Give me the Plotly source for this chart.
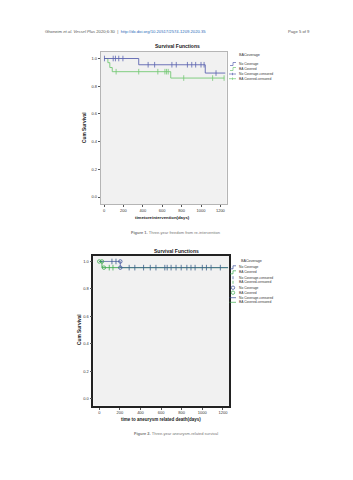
import plotly.graph_objects as go

W, H = 353, 480
def fx(px): return px / W
def fy(py): return 1 - py / H

BLUE = "#5c64b0"
GREEN = "#74c874"
FONT = "Liberation Sans, Arial, sans-serif"

# ---------- Figure 1 data: freedom from re-intervention ----------
f1_nocov_t = [0, 358, 1044, 1250]
f1_nocov_s = [1.0, 0.955, 0.895, 0.895]
f1_cov_t = [0, 40, 60, 85, 688, 1240]
f1_cov_s = [1.0, 0.97, 0.935, 0.905, 0.859, 0.859]
f1_nocov_cens_t = [5, 95, 118, 152, 195, 455, 522, 700, 745, 860, 905, 945, 1000, 1032, 1155]
f1_nocov_cens_s = [1.0, 1.0, 1.0, 1.0, 1.0, 0.955, 0.955, 0.955, 0.955, 0.955, 0.955, 0.955, 0.955, 0.955, 0.895]
f1_cov_cens_t = [125, 358, 555, 628, 645, 662, 822, 1120, 1238]
f1_cov_cens_s = [0.905, 0.905, 0.905, 0.905, 0.905, 0.905, 0.859, 0.859, 0.859]

# ---------- Figure 2 data: aneurysm-related survival ----------
f2_cov_t = [0, 26, 1250]
f2_cov_s = [1.0, 0.955, 0.955]
f2_nocov_t = [0, 204, 1250]
f2_nocov_s = [1.0, 0.955, 0.955]
f2_cov_circ_t = [0, 26, 45]
f2_cov_circ_s = [1.0, 1.0, 0.955]
f2_nocov_circ_t = [204, 204]
f2_nocov_circ_s = [1.0, 0.955]
f2_cov_cens_t = [97, 133]
f2_cov_cens_s = [0.955, 0.955]
f2_nocov_cens_t = [123, 162, 290, 345, 430, 495, 550, 636, 659, 697, 745, 795, 850, 890, 930, 1000, 1040, 1085, 1175]
f2_nocov_cens_s = [1.0, 1.0] + [0.955] * 17

x_ticks = [0, 200, 400, 600, 800, 1000, 1200]
y_ticks = [0.0, 0.2, 0.4, 0.6, 0.8, 1.0]
y_tick_labels = ["0.0", "0.2", "0.4", "0.6", "0.8", "1.0"]

fig = go.Figure()

def step(t, s, color, xa, ya, opacity=1.0, width=0.9):
    fig.add_trace(go.Scatter(x=t, y=s, mode="lines", line=dict(color=color, width=width, shape="hv"),
                             opacity=opacity, xaxis=xa, yaxis=ya, showlegend=False, hoverinfo="skip"))

def cens(t, s, color, xa, ya):
    fig.add_trace(go.Scatter(x=t, y=s, mode="markers",
                             marker=dict(symbol="line-ns", size=4, color=color,
                                         line=dict(color=color, width=0.8)),
                             xaxis=xa, yaxis=ya, showlegend=False, hoverinfo="skip"))

def circ(t, s, color, xa, ya):
    fig.add_trace(go.Scatter(x=t, y=s, mode="markers",
                             marker=dict(symbol="circle-open", size=3.5, color=color,
                                         line=dict(color=color, width=0.8)),
                             xaxis=xa, yaxis=ya, showlegend=False, hoverinfo="skip"))

# Figure 1
step(f1_cov_t, f1_cov_s, GREEN, "x", "y")
step(f1_nocov_t, f1_nocov_s, BLUE, "x", "y")
cens(f1_cov_cens_t, f1_cov_cens_s, GREEN, "x", "y")
cens(f1_nocov_cens_t, f1_nocov_cens_s, BLUE, "x", "y")

# Figure 2
step(f2_cov_t, f2_cov_s, "#3faa4f", "x2", "y2")
step(f2_nocov_t, f2_nocov_s, "#3a4f9a", "x2", "y2", opacity=0.75)
cens(f2_cov_cens_t, f2_cov_cens_s, "#3faa4f", "x2", "y2")
cens(f2_nocov_cens_t, f2_nocov_cens_s, "#3a5f8a", "x2", "y2")
circ(f2_cov_circ_t, f2_cov_circ_s, "#3faa4f", "x2", "y2")
circ(f2_nocov_circ_t, f2_nocov_circ_s, "#3a4f9a", "x2", "y2")

tickfont = dict(family=FONT, size=4, color="#333")
common_x = dict(tickmode="array", tickvals=x_ticks, ticktext=[str(v) for v in x_ticks],
                ticks="outside", ticklen=2, tickwidth=0.6, tickcolor="#555",
                showgrid=False, zeroline=False, tickfont=tickfont, mirror=True, showline=True)
common_y = dict(tickmode="array", tickvals=y_ticks, ticktext=y_tick_labels,
                ticks="outside", ticklen=2, tickwidth=0.6, tickcolor="#555",
                showgrid=False, zeroline=False, tickfont=tickfont, mirror=True, showline=True)

fig.update_layout(
    width=W, height=H, margin=dict(l=0, r=0, t=0, b=0),
    paper_bgcolor="white", plot_bgcolor="#f1f1f1",
    xaxis=dict(domain=[fx(100.7), fx(226.7)], range=[-34, 1265], anchor="y",
               linecolor="#b5b5b5", linewidth=0.8, **common_x),
    yaxis=dict(domain=[fy(204), fy(52)], range=[-0.05, 1.047], anchor="x",
               linecolor="#b5b5b5", linewidth=0.8, **common_y),
    xaxis2=dict(domain=[fx(93.3), fx(229)], range=[-58, 1259], anchor="y2",
                linecolor="#222", linewidth=1.6, **common_x),
    yaxis2=dict(domain=[fy(405.7), fy(255.7)], range=[-0.051, 1.042], anchor="x2",
                linecolor="#222", linewidth=1.6, **common_y),
)

ann = []
def text(px, py, s, size, xanchor="center", color="#222", textangle=0):
    ann.append(dict(x=fx(px), y=fy(py), xref="paper", yref="paper", text=s, showarrow=False,
                    xanchor=xanchor, yanchor="middle", textangle=textangle,
                    font=dict(family=FONT, size=size, color=color)))

# header
text(43, 32, "Ghoneim <i>et al. Vessel Plus</i> 2020;6:30  |  "
     "<span style='color:#2a6ab8'>http://dx.doi.org/10.20517/2574-1209.2020.35</span>",
     4.2, xanchor="left", color="#555")
text(312, 32, "Page 5 of 9", 4.2, xanchor="right", color="#555")

# figure 1 texts
text(177, 46, "<b>Survival Functions</b>", 5)
text(162, 218, "<b>timetoreintervention(days)</b>", 4.3)
text(85, 128, "<b>Cum Survival</b>", 4.8, textangle=-90)
text(175, 232, "<b>Figure 1.</b> Three-year freedom from re-intervention", 4, color="#777")

# figure 2 texts
text(176, 251, "<b>Survival Functions</b>", 5)
text(161, 419, "<b>time to aneurysm related death(days)</b>", 4.5)
text(79, 330, "<b>Cum Survival</b>", 4.8, textangle=-90)
text(176, 433, "<b>Figure 2.</b> Three-year aneurysm-related survival", 4, color="#777")

# legend 1
legend1_labels = ["No Coverage", "BA Covered", "No Coverage-censored", "BA Covered-censored"]
legend1_y = [64, 69, 74, 78.7]
legend1_colors = [BLUE, GREEN, BLUE, GREEN]
text(237, 54.7, "BACoverage", 3.7, xanchor="left", color="#333")
shapes = []
def seg(x0, y0, x1, y1, color, w=0.7):
    shapes.append(dict(type="line", xref="paper", yref="paper", x0=fx(x0), y0=fy(y0),
                       x1=fx(x1), y1=fy(y1), line=dict(color=color, width=w)))
for i, (lab, yy, c) in enumerate(zip(legend1_labels, legend1_y, legend1_colors)):
    text(236.5, yy, lab, 3.3, xanchor="left", color="#333")
    if i < 2:
        seg(230, yy + 1.5, 233, yy + 1.5, c)
        seg(233, yy + 1.5, 233, yy - 1.5, c)
        seg(233, yy - 1.5, 236, yy - 1.5, c)
    else:
        seg(229, yy, 236, yy, c)
        seg(232.5, yy - 1.2, 232.5, yy + 1.2, c)

# legend 2
legend2_labels = ["No Coverage", "BA Covered", "No Coverage-censored", "BA Covered-censored",
                  "No Coverage", "BA Covered", "No Coverage-censored", "BA Covered-censored"]
legend2_y = [267.3, 272.3, 277.7, 282.3, 287.7, 292.7, 297.7, 302.3]
legend2_colors = ["#3a4f9a", "#3faa4f"] * 4
text(239, 261, "BACoverage", 3.7, xanchor="left", color="#333")
for i, (lab, yy, c) in enumerate(zip(legend2_labels, legend2_y, legend2_colors)):
    text(236.5, yy, lab, 3.3, xanchor="left", color="#333")
    if i < 2:
        seg(230, yy + 1.5, 233, yy + 1.5, c)
        seg(233, yy + 1.5, 233, yy - 1.5, c)
        seg(233, yy - 1.5, 236, yy - 1.5, c)
    elif i < 4:
        seg(233, yy - 1.5, 233, yy + 1.5, c)
    elif i < 6:
        shapes.append(dict(type="circle", xref="paper", yref="paper", x0=fx(231.3), x1=fx(234.7),
                           y0=fy(yy + 1.7), y1=fy(yy - 1.7), line=dict(color=c, width=0.7)))
    else:
        seg(229.5, yy, 236, yy, c)

fig.update_layout(annotations=ann, shapes=shapes)
fig.write_html("out.html")
